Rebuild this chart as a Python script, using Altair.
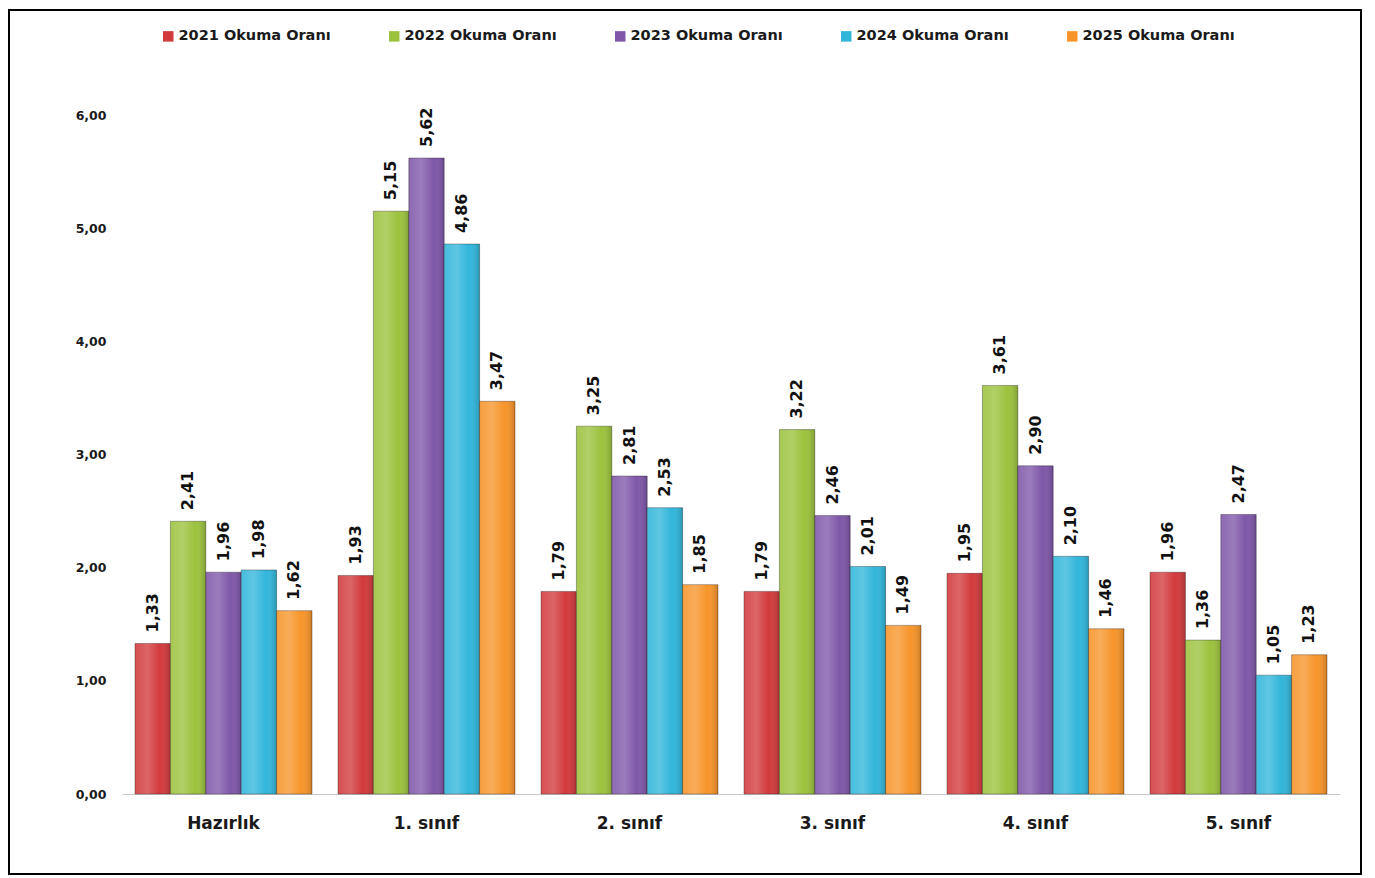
import altair as alt
import pandas as pd

categories = ["Hazırlık", "1. sınıf", "2. sınıf", "3. sınıf", "4. sınıf", "5. sınıf"]
series = ["2021 Okuma Oranı", "2022 Okuma Oranı", "2023 Okuma Oranı", "2024 Okuma Oranı", "2025 Okuma Oranı"]
v2021 = [1.33, 1.93, 1.79, 1.79, 1.95, 1.96]
v2022 = [2.41, 5.15, 3.25, 3.22, 3.61, 1.36]
v2023 = [1.96, 5.62, 2.81, 2.46, 2.90, 2.47]
v2024 = [1.98, 4.86, 2.53, 2.01, 2.10, 1.05]
v2025 = [1.62, 3.47, 1.85, 1.49, 1.46, 1.23]
colors = ["#d23a3c", "#9cc23d", "#7f57a9", "#31b6db", "#f7952a"]

rows = []
for s, vals in zip(series, [v2021, v2022, v2023, v2024, v2025]):
    for c, v in zip(categories, vals):
        rows.append({"cat": c, "series": s, "value": v})
df = pd.DataFrame(rows)

FONT = "DejaVu Sans"
W, H = 1218, 679

base = alt.Chart(df)

x = alt.X("cat:N", sort=categories, title=None,
          scale=alt.Scale(paddingInner=0.128, paddingOuter=0.064),
          axis=alt.Axis(labelAngle=0, labelFont=FONT, labelFontSize=17, labelFontWeight="bold",
                        labelColor="#1a1a1a", labelPadding=21, ticks=False,
                        domainColor="#c8c8c8", domainWidth=1))
xo = alt.XOffset("series:N", sort=series, scale=alt.Scale(paddingInner=0, paddingOuter=0))
y = alt.Y("value:Q", title=None,
          scale=alt.Scale(domain=[0, 6], nice=False),
          axis=alt.Axis(values=[0, 1, 2, 3, 4, 5, 6], grid=False, domain=False, ticks=False,
                        labelFont=FONT, labelFontSize=12.5, labelFontWeight="bold", labelColor="#1a1a1a",
                        labelPadding=16,
                        labelExpr="replace(format(datum.value, '.2f'), '.', ',')"))

bars = base.mark_bar(stroke="#00000050", strokeWidth=1).encode(
    x=x, xOffset=xo, y=y,
    color=alt.Color("series:N", sort=series, scale=alt.Scale(domain=series, range=colors),
                    legend=alt.Legend(title=None, orient="none", direction="horizontal", columns=5,
                                      legendX=39, legendY=-86, symbolType="square", symbolSize=110,
                                      symbolStrokeWidth=0, labelFont=FONT, labelFontSize=14.5,
                                      labelFontWeight="bold", labelColor="#1a1a1a",
                                      columnPadding=56, labelOffset=3)),
)

shade = base.mark_bar(
    color=alt.Gradient(
        gradient="linear", x1=0, y1=0, x2=1, y2=0,
        stops=[
            alt.GradientStop(offset=0, color="rgba(255,255,255,0.10)"),
            alt.GradientStop(offset=0.35, color="rgba(255,255,255,0.22)"),
            alt.GradientStop(offset=0.7, color="rgba(255,255,255,0.0)"),
            alt.GradientStop(offset=1, color="rgba(0,0,0,0.18)"),
        ],
    )
).encode(x=x, xOffset=xo, y=y)

labels = base.transform_calculate(
    lbl="replace(format(datum.value, '.2f'), '.', ',')"
).mark_text(angle=270, align="left", baseline="middle", dx=11, font=FONT, fontSize=16,
            fontWeight="bold", color="#111111").encode(
    x=x, xOffset=xo, y=y, text="lbl:N"
)

border = alt.Chart(pd.DataFrame({"k": [0]})).mark_rect(
    fill="transparent", stroke="#000000", strokeWidth=2, clip=False
).encode(x=alt.value(-113), x2=alt.value(1239), y=alt.value(-105), y2=alt.value(759))

chart = alt.layer(border, bars, shade, labels).properties(
    width=W, height=H,
    background="white",
    autosize=alt.AutoSizeParams(type="none"),
    padding={"left": 114, "top": 107, "right": 22, "bottom": 81},
).configure_view(strokeWidth=0, stroke="transparent")

chart.save("out.html", embed_options={"renderer": "svg", "actions": False})
